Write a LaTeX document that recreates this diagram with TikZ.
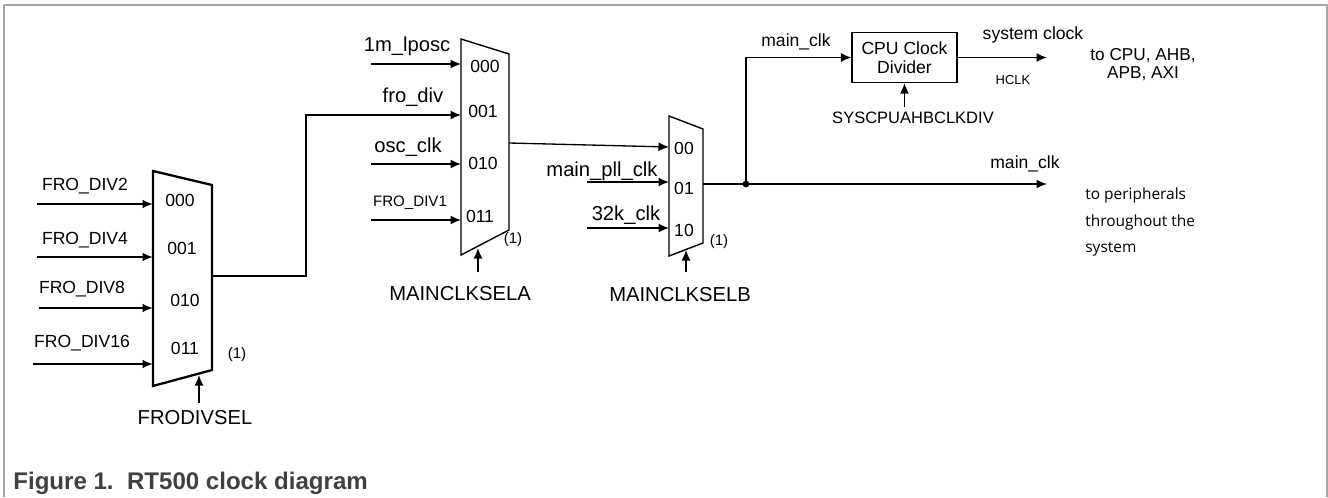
\documentclass[tikz,border=0pt]{standalone}
\usepackage{fontspec}
\setmainfont{Liberation Sans}
\newfontfamily\notefont{Open Sans}
\usetikzlibrary{arrows.meta}
\begin{document}
\begin{tikzpicture}[
x=0.02cm, y=-0.02cm,
>={Latex[length=2.1mm,width=1.8mm]},
wire/.style={->, line width=0.75pt},
fatwire/.style={->, line width=1.2pt},
muxbody/.style={draw, line width=0.8pt, line join=miter},
sig/.style={inner sep=0pt, font=\fontsize{11.5}{13}\selectfont},
lab/.style={inner sep=0pt, font=\fontsize{10}{12}\selectfont},
tiny/.style={inner sep=0pt, font=\fontsize{8.6}{10}\selectfont}
]
\useasboundingbox (0,0) rectangle (1328,497);
\draw[black!35, line width=0.6pt] (4,497) -- (4,5) -- (1327,5) -- (1327,497);

% FRODIVSEL mux
\draw[muxbody, line width=1.3pt] (153,171) -- (212,185) -- (212,370) -- (153,386) -- cycle;
\node[lab] (div2) at (85,186) {FRO\_DIV2};
\node[lab] (div4) at (85,240) {FRO\_DIV4};
\node[lab] (div8) at (82,289) {FRO\_DIV8};
\node[lab] (div16) at (82,343) {FRO\_DIV16};
\node[lab] (p1a) at (180,200) {000};
\node[lab] (p1b) at (182,248) {001};
\node[lab] (p1c) at (185,300) {010};
\node[lab] (p1d) at (185,348) {011};
\node[tiny] (n1) at (237,355) {(1)};
\node[sig] (fsel) at (195,418) {FRODIVSEL};
\foreach \n/\x/\y in {a/37/204, b/37/257, c/39/308, d/33/364} {
  \coordinate (i1\n) at (\x,\y);
  \coordinate (m1\n) at (153,\y);
  \draw[fatwire] (i1\n) -- (m1\n);
}
\coordinate (s1) at (199,403);
\coordinate (s1e) at (199,375);
\draw[wire] (s1) -- (s1e);
\coordinate (m1out) at (212,276);
\coordinate (jog) at (306,115);

% MAINCLKSELA mux
\draw[muxbody] (461,39) -- (509,54) -- (509,230) -- (461,255) -- cycle;
\node[sig] (lposc) at (407,46) {1m\_lposc};
\node[sig] (frodiv) at (413,97) {fro\_div};
\node[sig] (osc) at (408,147) {osc\_clk};
\node[tiny] (div1) at (410,203) {FRO\_DIV1};
\node[lab] (p2a) at (485,66) {000};
\node[lab] (p2b) at (483,111) {001};
\node[lab] (p2c) at (483,163) {010};
\node[lab] (p2d) at (480,216) {011};
\node[tiny] (n2) at (513,240) {(1)};
\node[sig] (asel) at (460,294) {MAINCLKSELA};
\foreach \n/\y in {a/64, c/164, d/220} {
  \coordinate (i2\n) at (371,\y);
  \coordinate (m2\n) at (461,\y);
  \draw[wire] (i2\n) -- (m2\n);
}
\coordinate (m2b) at (461,115);
\draw[wire] (m1out) -| (jog) -- (m2b);
\coordinate (s2) at (478,272);
\coordinate (s2e) at (478,248);
\draw[wire] (s2) -- (s2e);
\coordinate (m2out) at (509,143);

% MAINCLKSELB mux
\draw[muxbody] (669,116) -- (703,129) -- (703,243) -- (669,256) -- cycle;
\node[sig] (pll) at (602,171) {main\_pll\_clk};
\node[sig] (k32) at (626,215) {32k\_clk};
\node[lab] (p3a) at (684,148) {00};
\node[lab] (p3b) at (684,188) {01};
\node[lab] (p3c) at (684,230) {10};
\node[tiny] (n3) at (719,242) {(1)};
\node[sig] (bsel) at (680,295) {MAINCLKSELB};
\coordinate (m3a) at (669,147);
\draw[wire] (m2out) -- (m3a);
\foreach \n/\y in {b/182, c/228} {
  \coordinate (i3\n) at (587,\y);
  \coordinate (m3\n) at (669,\y);
  \draw[wire] (i3\n) -- (m3\n);
}
\coordinate (s3) at (686,272);
\coordinate (s3e) at (686,250);
\draw[wire] (s3) -- (s3e);
\coordinate (m3out) at (703,184);

% outputs
\node[draw, line width=0.75pt, minimum width=2.1cm, minimum height=1cm, align=center, inner sep=0pt,
  font=\fontsize{10}{10.5}\selectfont] (cpudiv) at (904.5,57.5) {CPU Clock\\Divider};
\node[inner sep=0pt, font=\fontsize{9.4}{11}\selectfont] (hsel) at (913,118) {SYSCPUAHBCLKDIV};
\coordinate (fork) at (746,184);
\coordinate (perout) at (1047,184);
\coordinate (sysout) at (1047,57.5);
\fill (fork) circle (3.4);
\draw[wire] (m3out) -- (fork) -- (perout);
\draw[wire] (fork) |- (cpudiv.west);
\draw[wire] (cpudiv.east) -- (sysout);
\draw[wire] (cpudiv.south |- 0,107) -- (cpudiv.south);
\node[lab] (mclka) at (796,42) {main\_clk};
\node[lab] (mclkb) at (1025,164) {main\_clk};
\node[lab] (sysclk) at (1033,35) {system clock};
\node[inner sep=0pt, font=\fontsize{7.4}{9}\selectfont] (hclk) at (1013,80) {HCLK};
\node[inner sep=0pt, align=center, font=\fontsize{9.8}{10.2}\selectfont] (cpu) at (1143,65) {to CPU, AHB,\\APB, AXI};
\node[inner sep=0pt, align=left, anchor=west, font=\notefont\fontsize{8.8}{15.3}\selectfont] (periph) at (1085,222)
  {to peripherals\\throughout the\\system};

% caption
\node[inner sep=0pt, anchor=west, text=black!75, font=\bfseries\fontsize{13.7}{16}\selectfont] (caption) at (13,483)
  {Figure 1.\ \ RT500 clock diagram};
\end{tikzpicture}
\end{document}
